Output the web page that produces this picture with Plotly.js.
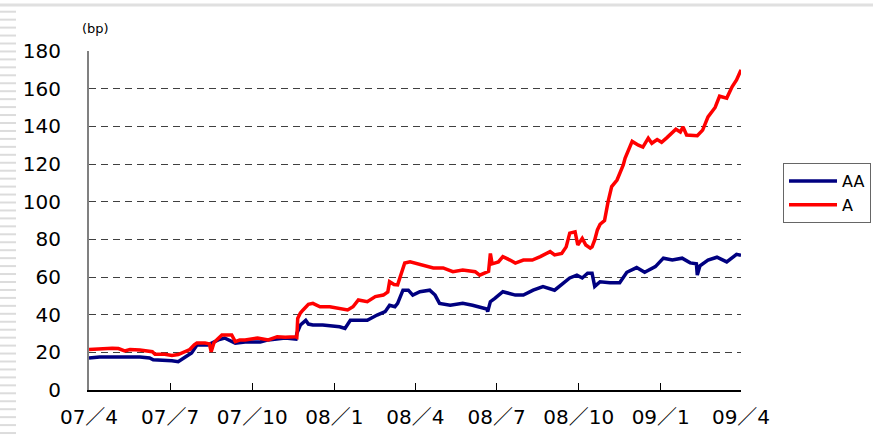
<!DOCTYPE html>
<html>
<head>
<meta charset="utf-8">
<script src="https://cdn.plot.ly/plotly-3.0.1.min.js"></script>
<style>html,body{margin:0;padding:0;background:#fff;}#chart{width:873px;height:438px;}</style>
</head>
<body>
<div id="chart"></div>
<script>
// ---- data ----
const seriesNames = ["AA", "A"];
const tickDates = ["2007-04-01","2007-07-01","2007-10-01","2008-01-01","2008-04-01","2008-07-01","2008-10-01","2009-01-01","2009-04-01"];
const tickLabels = ["07／4","07／7","07／10","08／1","08／4","08／7","08／10","09／1","09／4"];
const yTicks = [0,20,40,60,80,100,120,140,160,180];

const datesA = ["2007-04-01","2007-04-13","2007-04-27","2007-05-04","2007-05-11","2007-05-17","2007-05-28","2007-06-11","2007-06-14","2007-06-25","2007-07-03","2007-07-10","2007-07-18","2007-07-23","2007-07-28","2007-07-31","2007-08-09","2007-08-14","2007-08-16","2007-08-19","2007-08-23","2007-08-28","2007-09-08","2007-09-12","2007-09-17","2007-09-23","2007-10-07","2007-10-19","2007-10-29","2007-11-07","2007-11-18","2007-11-20","2007-11-21","2007-11-24","2007-11-27","2007-12-03","2007-12-08","2007-12-16","2007-12-27","2008-01-07","2008-01-16","2008-01-22","2008-01-28","2008-02-07","2008-02-16","2008-02-25","2008-03-01","2008-03-03","2008-03-08","2008-03-12","2008-03-17","2008-03-20","2008-03-26","2008-03-31","2008-04-09","2008-04-21","2008-05-02","2008-05-13","2008-05-24","2008-06-07","2008-06-12","2008-06-20","2008-06-22","2008-06-24","2008-06-26","2008-07-03","2008-07-08","2008-07-16","2008-07-22","2008-07-31","2008-08-10","2008-08-19","2008-08-30","2008-09-04","2008-09-12","2008-09-17","2008-09-21","2008-09-27","2008-09-30","2008-10-05","2008-10-09","2008-10-14","2008-10-16","2008-10-19","2008-10-22","2008-10-25","2008-10-30","2008-11-03","2008-11-07","2008-11-13","2008-11-20","2008-11-22","2008-11-25","2008-11-30","2008-12-07","2008-12-12","2008-12-18","2008-12-22","2008-12-28","2009-01-02","2009-01-08","2009-01-14","2009-01-18","2009-01-23","2009-01-26","2009-01-30","2009-02-11","2009-02-17","2009-02-23","2009-03-03","2009-03-08","2009-03-16","2009-03-22","2009-03-27","2009-04-01"];
const valuesA = [21.5,22,22.2,22,20.8,21.5,21.2,20.3,19,19,18.3,18.8,20.3,21.5,24,25,25,24.5,20.3,25,27,29.2,29.2,25.7,26.5,26.6,27.6,26.6,28.3,28,28.3,28,38,40.9,42.5,45.5,46,44.2,44.2,43.4,42.5,44.2,47.8,46.9,49.6,50.4,52,57.5,56,55.8,62.8,67.4,68.1,67.4,66.4,64.8,64.8,62.8,63.7,62.8,61,62.8,63,72.5,67,68,70.8,69,67.4,69,69,70.8,73.5,71.7,72.5,76,83.3,84,77,80.5,77,75.3,76,79.7,85,88,90,100,108,111.5,119.5,123,126,132,130,129,133.7,131,133,131.5,134,137,138.5,137,139.7,135.4,135,138,145,150,156,155,161,164.6,170];

const datesAA = ["2007-04-01","2007-04-13","2007-05-28","2007-06-08","2007-06-12","2007-06-25","2007-07-03","2007-07-10","2007-07-14","2007-07-18","2007-07-25","2007-07-29","2007-07-31","2007-08-12","2007-08-18","2007-08-24","2007-08-31","2007-09-06","2007-09-12","2007-09-23","2007-10-01","2007-10-10","2007-10-19","2007-11-07","2007-11-19","2007-11-20","2007-11-24","2007-11-28","2007-11-30","2007-12-03","2007-12-08","2007-12-19","2008-01-07","2008-01-13","2008-01-16","2008-01-19","2008-01-26","2008-02-07","2008-02-18","2008-02-27","2008-03-03","2008-03-09","2008-03-12","2008-03-16","2008-03-18","2008-03-24","2008-03-29","2008-04-06","2008-04-17","2008-04-23","2008-04-28","2008-05-10","2008-05-24","2008-06-04","2008-06-15","2008-06-20","2008-06-21","2008-06-24","2008-06-29","2008-07-08","2008-07-22","2008-07-31","2008-08-11","2008-08-22","2008-09-04","2008-09-12","2008-09-21","2008-09-29","2008-10-05","2008-10-11","2008-10-16","2008-10-19","2008-10-25","2008-11-05","2008-11-16","2008-11-24","2008-12-05","2008-12-14","2008-12-26","2009-01-04","2009-01-14","2009-01-25","2009-02-03","2009-02-10","2009-02-11","2009-02-14","2009-02-23","2009-03-05","2009-03-16","2009-03-27","2009-04-01"];
const valuesAA = [17,17.5,17.5,17,16,15.8,15.5,15,16,17.5,19.6,22,23.9,23.9,25.5,26.6,27.6,26,24.9,25.5,25.7,25.5,26.6,27.6,27,30,34.5,36.3,37,35,34.5,34.5,33.6,32.7,35,37,37,37,39.8,41.6,45,44.2,46,50,53,53,50.4,52.2,53,50.4,46,45,46,45,43.4,43,41.6,46.9,48.7,52.2,50.4,50.4,53,54.9,53,55.8,59.5,61,59.5,62,62,55,57.5,57,57,62.5,65,62.5,65.5,70,69,70,67.5,67,61,66,69,70.5,68,72,71.5];

// ---- layout geometry (pixels) ----
const W = 873, H = 438, L = 89, R = 741, T = 51, B = 390;
const px = x => (x - L) / (R - L);
const py = y => (B - y) / (B - T);

const shapes = [];
for (let y = 11.7; y < H; y += 7.95) {
  shapes.push({type:'line', xref:'paper', yref:'paper', x0:px(0), x1:px(16), y0:py(y), y1:py(y),
    line:{color:'#dcdcdc', width:2}, layer:'below'});
}
shapes.push({type:'line', xref:'paper', yref:'paper', x0:px(0), x1:px(W), y0:py(5), y1:py(5),
  line:{color:'#e0e0e0', width:3}, layer:'below'});

const traces = [
  {x: datesAA, y: valuesAA, name: seriesNames[0], type:'scatter', mode:'lines',
   line:{color:'#000080', width:3.5}},
  {x: datesA, y: valuesA, name: seriesNames[1], type:'scatter', mode:'lines',
   line:{color:'#ff0000', width:3.5}}
];

const layout = {
  width: W, height: H,
  margin: {l: L, r: W - R, t: T, b: H - B, pad: 0, autoexpand: false},
  paper_bgcolor: '#fff', plot_bgcolor: '#fff',
  showlegend: true,
  font: {family: 'DejaVu Sans, sans-serif', color: '#000'},
  xaxis: {
    type: 'date', range: [tickDates[0], tickDates[tickDates.length-1]],
    tickmode: 'array', tickvals: tickDates, ticktext: tickLabels,
    ticks: 'inside', ticklen: 7, tickwidth: 1, tickcolor: '#000',
    showline: true, linecolor: '#000', linewidth: 2,
    showgrid: false, zeroline: false, automargin: false,
    tickfont: {family: 'DejaVu Sans, Noto Sans CJK JP, sans-serif', size: 20, color: '#000'},
    ticklabelstandoff: 8
  },
  yaxis: {
    range: [0, 180], tickmode: 'array', tickvals: yTicks,
    ticks: '', showline: true, linecolor: '#808080', linewidth: 2,
    showgrid: true, gridcolor: '#404040', gridwidth: 1, griddash: '7px,5px',
    zeroline: false, automargin: false,
    tickfont: {family: 'DejaVu Sans, sans-serif', size: 20, color: '#000'},
    ticklabelstandoff: 22
  },
  legend: {
    xref: 'container', yref: 'container',
    x: 783 / W, y: 1 - 163 / H, xanchor: 'left', yanchor: 'top',
    bgcolor: '#fff', bordercolor: '#666', borderwidth: 1,
    font: {family: 'DejaVu Sans, sans-serif', size: 16, color: '#000'},
    itemwidth: 48
  },
  annotations: [{
    text: '(bp)', xref: 'paper', yref: 'paper', x: px(95), y: py(29),
    xanchor: 'center', yanchor: 'middle', showarrow: false,
    font: {family: 'DejaVu Sans, sans-serif', size: 13, color: '#000'}
  }],
  shapes: shapes
};

Plotly.newPlot('chart', traces, layout, {displayModeBar: false, staticPlot: true});
</script>
</body>
</html>
